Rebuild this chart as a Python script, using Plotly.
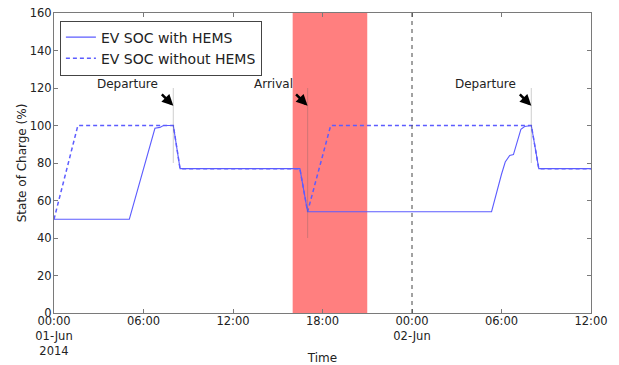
import pandas as pd
import plotly.graph_objects as go

# State of charge with home energy management (solid line)
hems_time = ["2014-06-01 00:00", "2014-06-01 05:03", "2014-06-01 06:46", "2014-06-01 07:06",
             "2014-06-01 07:20", "2014-06-01 08:00", "2014-06-01 08:27", "2014-06-01 16:29",
             "2014-06-01 17:00", "2014-06-02 05:20", "2014-06-02 06:00", "2014-06-02 06:15",
             "2014-06-02 06:33", "2014-06-02 06:48", "2014-06-02 07:18", "2014-06-02 07:33",
             "2014-06-02 08:00", "2014-06-02 08:30", "2014-06-02 12:00"]
hems_soc = [50, 50, 98.5, 99, 100, 100, 77, 77, 54, 54, 74, 80.5, 84, 84.5, 98, 99.5, 100, 77, 77]

# State of charge without home energy management (dashed line)
base_time = ["2014-06-01 00:00", "2014-06-01 01:36", "2014-06-01 08:00", "2014-06-01 08:27",
             "2014-06-01 16:29", "2014-06-01 17:00", "2014-06-01 18:33", "2014-06-02 08:00",
             "2014-06-02 08:30", "2014-06-02 12:00"]
base_soc = [50, 100, 100, 77, 77, 54, 100, 100, 77, 77]

# Peak-price window and plug events
peak_start, peak_end = "2014-06-01 16:00", "2014-06-01 21:00"
midnight = "2014-06-02 00:00"
events = ["Departure", "Arrival", "Departure"]
event_time = ["2014-06-01 08:00", "2014-06-01 17:00", "2014-06-02 08:00"]
event_span = [(80, 120), (40, 120), (80, 120)]
label_time = ["2014-06-01 04:56", "2014-06-01 14:41", "2014-06-02 04:55"]
arrow_tip = 110.5
label_soc = 122.3

tick_vals = ["2014-06-01 00:00", "2014-06-01 06:00", "2014-06-01 12:00", "2014-06-01 18:00",
             "2014-06-02 00:00", "2014-06-02 06:00", "2014-06-02 12:00"]
tick_text = ["00:00<br>01-Jun<br>2014", "06:00", "12:00", "18:00", "00:00<br>02-Jun", "06:00", "12:00"]
y_ticks = [0, 20, 40, 60, 80, 100, 120, 140, 160]

FONT = "DejaVu Sans"
LINE = "#5c5cff"

fig = go.Figure()
fig.add_trace(go.Scatter(x=pd.to_datetime(hems_time), y=hems_soc, mode="lines",
                         name="EV SOC with HEMS", line=dict(color=LINE, width=1.1)))
fig.add_trace(go.Scatter(x=pd.to_datetime(base_time), y=base_soc, mode="lines",
                         name="EV SOC without HEMS",
                         line=dict(color=LINE, width=1.5, dash="4px,3px")))

fig.add_vrect(x0=peak_start, x1=peak_end, fillcolor="#ff7f7f", opacity=1,
              line_width=0, layer="below")
fig.add_shape(type="line", xref="x", yref="paper", x0=midnight, x1=midnight, y0=0, y1=1,
              line=dict(color="#444444", width=1, dash="4px,4px"))

for name, t, (lo, hi), lt in zip(events, event_time, event_span, label_time):
    fig.add_shape(type="line", x0=t, x1=t, y0=lo, y1=hi,
                  line=dict(color="rgba(90,90,90,0.25)", width=1.2))
    fig.add_annotation(x=t, y=arrow_tip, ax=-13, ay=-13, text="", showarrow=True,
                       arrowhead=2, arrowsize=0.9, arrowwidth=2.5, arrowcolor="black")
    fig.add_annotation(x=lt, y=label_soc, text=name, showarrow=False,
                       font=dict(family=FONT, size=12, color="#222222"))

axis_common = dict(showgrid=False, zeroline=False, showline=True, mirror="ticks",
                   linecolor="#7a7a7a", linewidth=1.2, ticks="inside", ticklen=4,
                   tickcolor="#7a7a7a", automargin=False,
                   tickfont=dict(family=FONT, size=11.5, color="#222222"))

fig.update_xaxes(range=[pd.Timestamp("2014-06-01 00:00"), pd.Timestamp("2014-06-02 12:00")],
                 tickvals=pd.to_datetime(tick_vals), ticktext=tick_text,
                 ticklabelstandoff=-3,
                 title=dict(text="Time", font=dict(family=FONT, size=12, color="#222222"),
                            standoff=4),
                 **axis_common)
fig.update_yaxes(range=[0, 160], tickvals=y_ticks, ticklabelstandoff=-1,
                 title=dict(text="State of Charge (%)",
                            font=dict(family=FONT, size=12, color="#222222"), standoff=0),
                 **axis_common)

fig.update_layout(
    width=619, height=365,
    margin=dict(l=54, r=28, t=13, b=52),
    plot_bgcolor="white", paper_bgcolor="white",
    font=dict(family=FONT, color="#222222"),
    legend=dict(x=0.011, y=0.975, xanchor="left", yanchor="top",
                bgcolor="white", bordercolor="#444444", borderwidth=1,
                font=dict(family=FONT, size=14, color="#222222"),
                itemwidth=30, tracegroupgap=0),
)

fig.write_html("out.html")
